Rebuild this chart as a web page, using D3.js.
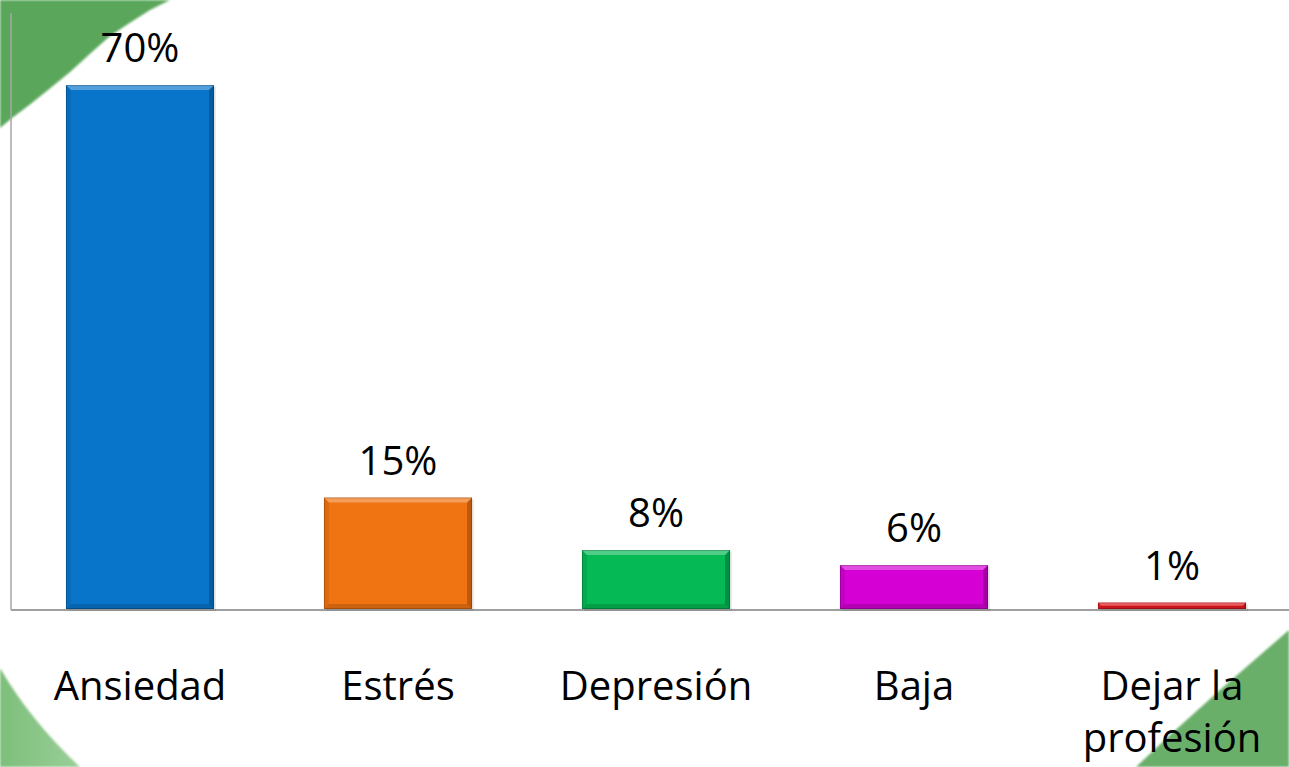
<!DOCTYPE html>
<html><head><meta charset="utf-8">
<script src="https://cdn.jsdelivr.net/npm/d3@7"></script>
<style>html,body{margin:0;padding:0;background:#fff;overflow:hidden}</style>
</head><body>
<svg id="c" width="1289" height="767"></svg>
<script>
const categories = ["Ansiedad", "Estrés", "Depresión", "Baja", "Dejar la profesión"];
const values = [70, 15, 8, 6, 1];
const colors = ["#0875CA", "#F07412", "#05B955", "#D400D4", "#E81B1E"];
const valueLabels = ["70%", "15%", "8%", "6%", "1%"];

const W = 1289, H = 767;
const svg = d3.select("#c");
const defs = svg.append("defs");

// decorative green corners
const gl = defs.append("linearGradient").attr("id","gBL").attr("x1","0").attr("y1","0").attr("x2","1").attr("y2","0");
gl.append("stop").attr("offset","0").attr("stop-color","#7DBF7B");
gl.append("stop").attr("offset","1").attr("stop-color","#9ACE98");
const blur = defs.append("filter").attr("id","soft").attr("x","-10%").attr("y","-10%").attr("width","120%").attr("height","120%");
blur.append("feGaussianBlur").attr("stdDeviation","1.2");

svg.append("path")
  .attr("d","M0,0 L170,0 L150,10 L128,24 L110,36 L92,52 L70,72 L48,90 L28,106 L12,118 L0,128 Z")
  .attr("fill","#5AA75B").attr("filter","url(#soft)");
svg.append("path")
  .attr("d","M0,668 Q30,720 80,767 L0,767 Z")
  .attr("fill","url(#gBL)").attr("filter","url(#soft)");
svg.append("path")
  .attr("d","M1289,630 L1220,690 L1170,735 L1136,767 L1289,767 Z")
  .attr("fill","#69AF69").attr("filter","url(#soft)");

const x = d3.scaleBand().domain(categories).range([11, 1301]).paddingInner(0.426).paddingOuter(0.213);
const y = d3.scaleLinear().domain([0, 80]).range([610, 10]);

// axes lines
svg.append("line").attr("x1",11).attr("x2",11).attr("y1",y(79.6)).attr("y2",y(0))
  .attr("stroke","#A6A6A6").attr("stroke-width",1.5);
svg.append("line").attr("x1",11).attr("x2",W).attr("y1",y(0)).attr("y2",y(0))
  .attr("stroke","#A0A0A0").attr("stroke-width",2);

const bw = x.bandwidth();
const b = 5;
const g = svg.selectAll("g.bar").data(categories).join("g").attr("class","bar");
g.each(function(c, i) {
  const sel = d3.select(this);
  const x0 = x(c), x1 = x0 + bw, y0 = y(values[i]), y1 = y(0) - 1;
  const bb = Math.min(b, (y1 - y0) / 2);
  // shadow
  sel.append("rect").attr("x", x0 + 2).attr("y", y0 + 2).attr("width", bw).attr("height", y1 - y0)
    .attr("fill", "#000").attr("opacity", 0.08);
  sel.append("rect").attr("x", x0).attr("y", y0).attr("width", bw).attr("height", y1 - y0)
    .attr("fill", colors[i]);
  // bevels
  sel.append("path").attr("d", `M${x0},${y0} L${x1},${y0} L${x1-bb},${y0+bb} L${x0+bb},${y0+bb} Z`)
    .attr("fill", "#fff").attr("opacity", 0.3);
  sel.append("path").attr("d", `M${x0},${y1} L${x1},${y1} L${x1-bb},${y1-bb} L${x0+bb},${y1-bb} Z`)
    .attr("fill", "#000").attr("opacity", 0.15);
  sel.append("path").attr("d", `M${x0},${y0} L${x0+bb},${y0+bb} L${x0+bb},${y1-bb} L${x0},${y1} Z`)
    .attr("fill", "#000").attr("opacity", 0.08);
  sel.append("path").attr("d", `M${x1},${y0} L${x1-bb},${y0+bb} L${x1-bb},${y1-bb} L${x1},${y1} Z`)
    .attr("fill", "#000").attr("opacity", 0.22);
  sel.append("rect").attr("x", x0 + 0.5).attr("y", y0 + 0.5).attr("width", bw - 1).attr("height", y1 - y0 - 1)
    .attr("fill", "none").attr("stroke", "#000").attr("stroke-opacity", 0.2).attr("stroke-width", 1);
  // value label
  sel.append("text").attr("x", x0 + bw / 2).attr("y", y0 - 23)
    .attr("text-anchor", "middle").attr("font-family", "'Open Sans', sans-serif")
    .attr("font-size", 40).attr("fill", "#000").text(valueLabels[i]);
});

// category labels (wrapped)
const lab = svg.selectAll("text.cat").data(categories).join("text").attr("class","cat")
  .attr("text-anchor","middle").attr("font-family","'Open Sans', sans-serif")
  .attr("font-size",40).attr("fill","#000");
lab.each(function(c) {
  const t = d3.select(this);
  const cx = x(c) + bw / 2;
  const words = c.split(" ");
  const lines = words.length > 2 ? [words.slice(0,2).join(" "), words.slice(2).join(" ")] : [c];
  lines.forEach((ln, k) => {
    t.append("tspan").attr("x", cx).attr("y", 700 + k * 52).text(ln);
  });
});
</script>
</body></html>
